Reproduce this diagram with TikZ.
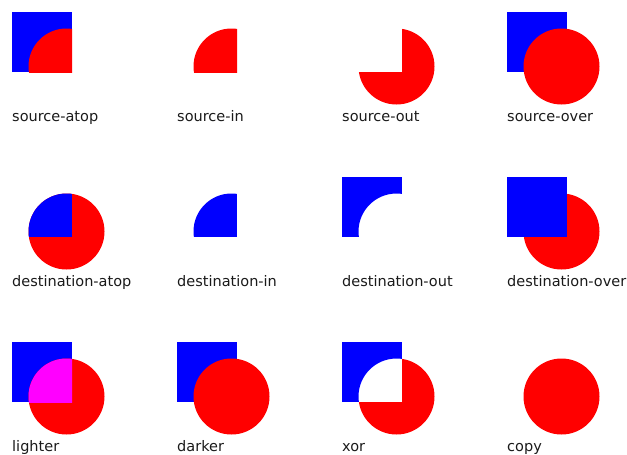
\documentclass[tikz,border=0pt]{standalone}
\usepackage{fontspec}
\setmainfont{DejaVu Sans}
\usepackage{tikz}
\definecolor{srcred}{HTML}{FF0000}
\definecolor{dstblue}{HTML}{0000FF}
\definecolor{mixmagenta}{HTML}{FF00FF}
\definecolor{labelgray}{HTML}{1A1A1A}
% shapes of one cell, relative to its top left corner
\newcommand{\sqpath}{(0,0) rectangle (60,60)}
\newcommand{\discpath}{(54.5,54.5) circle[radius=38]}
\newcommand{\outerpath}{(-5,-5) rectangle (100,100)}

\begin{document}
\begin{tikzpicture}[
    x=1pt, y=-1pt,
    lbl/.style={anchor=base west, inner sep=0pt, font=\fontsize{14.5}{17}\selectfont, text=labelgray},
    dst/.style={fill=dstblue},
    src/.style={fill=srcred},
]
    \useasboundingbox (0,0) rectangle (627,455);

    % row 1
    \begin{scope}[shift={(12,12)}]
        \fill[dst] \sqpath;
        \begin{scope}
            \clip \sqpath;
            \fill[src] \discpath;
        \end{scope}
    \end{scope}
    \begin{scope}[shift={(177,12)}]
        \clip \sqpath;
        \fill[src] \discpath;
    \end{scope}
    \begin{scope}[shift={(342,12)}, even odd rule]
        \clip \outerpath \sqpath;
        \fill[src] \discpath;
    \end{scope}
    \begin{scope}[shift={(507,12)}]
        \fill[dst] \sqpath;
        \fill[src] \discpath;
    \end{scope}

    % row 2
    \begin{scope}[shift={(12,177)}]
        \fill[src] \discpath;
        \begin{scope}
            \clip \discpath;
            \fill[dst] \sqpath;
        \end{scope}
    \end{scope}
    \begin{scope}[shift={(177,177)}]
        \clip \discpath;
        \fill[dst] \sqpath;
    \end{scope}
    \begin{scope}[shift={(342,177)}, even odd rule]
        \clip \outerpath \discpath;
        \fill[dst] \sqpath;
    \end{scope}
    \begin{scope}[shift={(507,177)}]
        \fill[src] \discpath;
        \fill[dst] \sqpath;
    \end{scope}

    % row 3
    \begin{scope}[shift={(12,342)}]
        \fill[dst] \sqpath;
        \fill[src] \discpath;
        \begin{scope}
            \clip \sqpath;
            \fill[mixmagenta] \discpath;
        \end{scope}
    \end{scope}
    \begin{scope}[shift={(177,342)}]
        \fill[dst] \sqpath;
        \fill[src] \discpath;
    \end{scope}
    \begin{scope}[shift={(342,342)}, even odd rule]
        \begin{scope}
            \clip \outerpath \discpath;
            \fill[dst] \sqpath;
        \end{scope}
        \begin{scope}
            \clip \outerpath \sqpath;
            \fill[src] \discpath;
        \end{scope}
    \end{scope}
    \begin{scope}[shift={(507,342)}]
        \fill[src] \discpath;
    \end{scope}

    % labels
    \node[lbl] (srcatop) at (12,121) {source-atop};
    \node[lbl] (srcin) at (177,121) {source-in};
    \node[lbl] (srcout) at (342,121) {source-out};
    \node[lbl] (srcover) at (507,121) {source-over};
    \node[lbl] (dstatop) at (12,286) {destination-atop};
    \node[lbl] (dstin) at (177,286) {destination-in};
    \node[lbl] (dstout) at (342,286) {destination-out};
    \node[lbl] (dstover) at (507,286) {destination-over};
    \node[lbl] (lighter) at (12,451) {lighter};
    \node[lbl] (darker) at (177,451) {darker};
    \node[lbl] (xor) at (342,451) {xor};
    \node[lbl] (copy) at (507,451) {copy};
\end{tikzpicture}
\end{document}
